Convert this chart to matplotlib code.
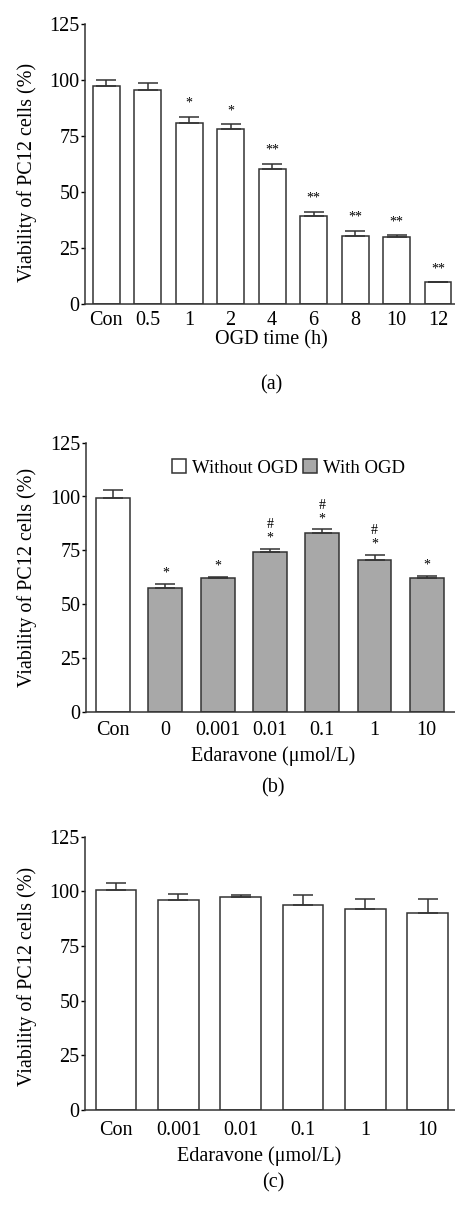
import numpy as np
import matplotlib
matplotlib.use("Agg")
import matplotlib.pyplot as plt
from matplotlib.patches import Patch

plt.rcParams['font.family'] = ['Liberation Serif', 'DejaVu Serif']
plt.rcParams['font.size'] = 14

# ---- data ----
# (a) OGD time course
a_labels = ['Con', '0.5', '1', '2', '4', '6', '8', '10', '12']
a_values = [97.5, 95.7, 80.7, 78.3, 60.2, 39.5, 30.5, 29.9, 9.8]
a_errors = [2.6, 3.0, 3.0, 2.0, 2.5, 1.7, 2.2, 0.9, 0.0]
a_marks = ['', '', '*', '*', '**', '**', '**', '**', '**']

# (b) edaravone with OGD
b_labels = ['Con', '0', '0.001', '0.01', '0.1', '1', '10']
b_values = [99.1, 57.3, 62.1, 74.2, 82.9, 70.5, 62.1]
b_errors = [3.9, 1.9, 0.6, 1.5, 1.8, 2.5, 1.1]
b_marks = ['', '*', '*', '#\n*', '#\n*', '#\n*', '*']
b_group = ['Without OGD', 'With OGD', 'With OGD', 'With OGD', 'With OGD', 'With OGD', 'With OGD']

# (c) edaravone alone
c_labels = ['Con', '0.001', '0.01', '0.1', '1', '10']
c_values = [100.5, 96.0, 97.3, 93.9, 91.8, 89.9]
c_errors = [3.2, 2.8, 0.9, 4.6, 4.8, 6.7]

yticks = [0, 25, 50, 75, 100, 125]
group_colors = {'Without OGD': 'white', 'With OGD': '#a8a8a8'}

W, H = 455, 1207
fs = 14.5
fig = plt.figure(figsize=(W / 100, H / 100), dpi=100)


def fy(px):
    return 1 - px / H


def make_axes(left_px, top_px, bottom_px, xpad, ylab_y):
    ax = fig.add_axes([left_px / W, fy(bottom_px), (W - left_px) / W,
                       (bottom_px - top_px) / H])
    for s in ['top', 'right']:
        ax.spines[s].set_visible(False)
    for s in ['left', 'bottom']:
        ax.spines[s].set_linewidth(1.1)
        ax.spines[s].set_color('#333333')
    ax.set_ylim(0, 125)
    ax.set_yticks(yticks)
    ax.tick_params(axis='y', direction='out', length=3, width=1, pad=1,
                   labelsize=fs)
    ax.tick_params(axis='x', length=0, labelsize=fs, pad=xpad)
    ax.set_ylabel('Viability of PC12 cells (%)', fontsize=fs)
    ax.yaxis.set_label_coords((37 - left_px) / (W - left_px), ylab_y)
    return ax


def draw_bars(ax, labels, values, errors, colors, capsize, xlim):
    x = np.arange(len(labels))
    ax.bar(x, values, width=0.65, color=colors, edgecolor='#333333',
           linewidth=1.1, zorder=2)
    ax.errorbar(x, values, yerr=[np.zeros(len(values)), errors], fmt='none',
                ecolor='#333333', elinewidth=1.1, capsize=capsize,
                capthick=1.1, zorder=3)
    ax.set_xticks(x)
    ax.set_xticklabels(labels)
    ax.set_xlim(*xlim)
    return x


# ---- panel (a) ----
ax_a = make_axes(85, 24, 304, 5, 0.47)
xa = draw_bars(ax_a, a_labels, a_values, a_errors, 'white', 7, (-0.51, 8.41))
for xi, v, e, m in zip(xa, a_values, a_errors, a_marks):
    if m:
        ax_a.text(xi, v + e + 3, m, ha='center', va='bottom', fontsize=10)
fig.text(0.597, fy(340), 'OGD time (h)', ha='center', va='center', fontsize=fs)
fig.text(0.597, fy(385), '(a)', ha='center', va='center', fontsize=fs)

# ---- panel (b) ----
ax_b = make_axes(86, 442.7, 711.7, 7, 0.5)
xb = draw_bars(ax_b, b_labels, b_values, b_errors,
               [group_colors[g] for g in b_group], 7.5, (-0.52, 6.54))
for xi, v, e, m in zip(xb, b_values, b_errors, b_marks):
    if m:
        ax_b.text(xi, v + e + 2, m, ha='center', va='bottom', fontsize=10,
                  linespacing=1.0)
handles = [Patch(facecolor=group_colors[g], edgecolor='#333333', linewidth=1.1,
                 label=g) for g in ['Without OGD', 'With OGD']]
ax_b.legend(handles=handles, loc='center left',
            bbox_to_anchor=(172 / W, fy(468)), bbox_transform=fig.transFigure,
            ncol=2, frameon=False, handlelength=0.75, handleheight=0.75,
            handletextpad=0.3, columnspacing=0.3, fontsize=13.5,
            borderpad=0, borderaxespad=0)
fig.text(0.6, fy(756), 'Edaravone (μmol/L)', ha='center', va='center',
         fontsize=fs)
fig.text(0.6, fy(788), '(b)', ha='center', va='center', fontsize=fs)

# ---- panel (c) ----
ax_c = make_axes(85, 836.7, 1110, 8, 0.49)
draw_bars(ax_c, c_labels, c_values, c_errors, 'white', 7, (-0.5, 5.44))
fig.text(0.57, fy(1156), 'Edaravone (μmol/L)', ha='center', va='center',
         fontsize=fs)
fig.text(0.6, fy(1183), '(c)', ha='center', va='center', fontsize=fs)

fig.savefig('out.png', dpi=100)
